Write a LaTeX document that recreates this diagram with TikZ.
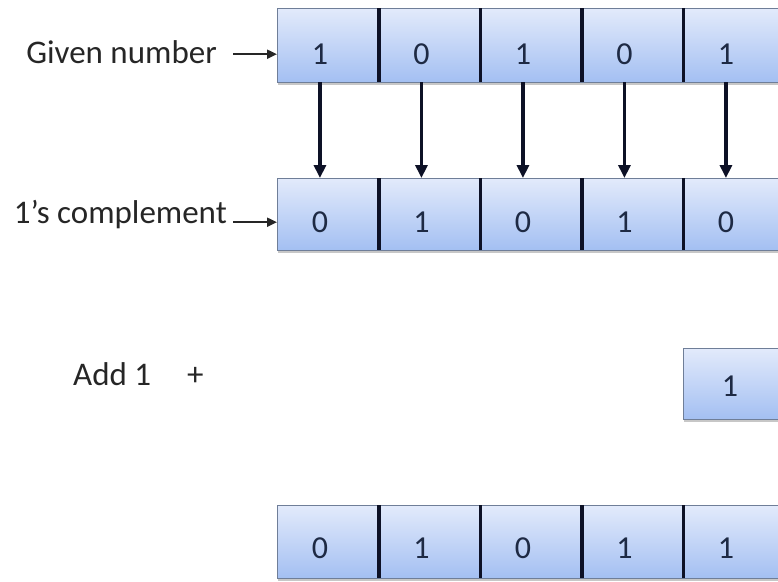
\documentclass[tikz,border=0pt]{standalone}
\usepackage{fontspec}
\setmainfont{Carlito}
\usetikzlibrary{arrows.meta,shadows,calc}
\definecolor{boxtop}{HTML}{E2EAFB}
\definecolor{boxbot}{HTML}{A3BFF2}
\definecolor{boxline}{HTML}{6F7E98}
\definecolor{divline}{HTML}{0D1126}
\definecolor{txt}{HTML}{262626}
\definecolor{dig}{HTML}{1E2A44}
\begin{document}
\begin{tikzpicture}[x=1pt,y=-1pt,
  rowbox/.style={draw=boxline, line width=1.4pt, top color=boxtop, bottom color=boxbot,
    inner sep=0pt, anchor=north west, minimum width=#1,
    drop shadow={shadow xshift=0.5pt, shadow yshift=-2.5pt, opacity=0.22, fill=black}},
  rowh/.style={minimum height=#1},
  cell/.style={minimum width=101.5pt, minimum height=#1, inner sep=0pt, anchor=north west},
  divider/.style={draw=divline, line width=3.6pt},
  lab/.style={font=\fontsize{33}{40}\selectfont, text=txt, inner sep=0pt},
  digit/.style={font=\fontsize{32}{38}\selectfont, text=dig, inner sep=0pt},
  varrow/.style={draw=divline, line width=3.4pt, -{Triangle[length=13pt,width=12pt]}},
  harrow/.style={draw=txt, line width=2pt, -{Triangle[length=10pt,width=9pt]}}]
\useasboundingbox (0,0) rectangle (778,581);
\clip (0,0) rectangle (778,581);

% Row 1: given number
\node[rowbox=540pt, rowh=74pt] (row1) at (277,8) {};
\foreach \i in {1,...,5} \node[cell=74pt] (c1-\i) at ({277+101.5*(\i-1)},8) {};
\foreach \i in {1,...,4} \draw[divider] (c1-\i.north east) -- (c1-\i.south east);
\foreach \i/\v in {1/1,2/0,3/1,4/0,5/1}
  \node[digit] (d1-\i) at ([xshift=-8pt,yshift=-9pt]c1-\i.center) {\v};

% Row 2: 1's complement
\node[rowbox=540pt, rowh=72pt] (row2) at (277,178) {};
\foreach \i in {1,...,5} \node[cell=72pt] (c2-\i) at ({277+101.5*(\i-1)},178) {};
\foreach \i in {1,...,4} \draw[divider] (c2-\i.north east) -- (c2-\i.south east);
\foreach \i/\v in {1/0,2/1,3/0,4/1,5/0}
  \node[digit] (d2-\i) at ([xshift=-8pt,yshift=-8pt]c2-\i.center) {\v};

% vertical arrows
\foreach \i in {1,...,5}
  \draw[varrow] (d1-\i |- c1-\i.south) -- (d1-\i |- c2-\i.north);

% Row 3: add 1
\node[rowbox=140pt, rowh=71pt] (row3) at (683,348) {};
\node[cell=71pt] (c3-1) at (683,348) {};
\node[digit] (d3-1) at ([xshift=-4pt,yshift=-2pt]c3-1.center) {1};

% Row 4: result
\node[rowbox=540pt, rowh=73pt] (row4) at (277,505) {};
\foreach \i in {1,...,5} \node[cell=73pt] (c4-\i) at ({277+101.5*(\i-1)},505) {};
\foreach \i in {1,...,4} \draw[divider] (c4-\i.north east) -- (c4-\i.south east);
\foreach \i/\v in {1/0,2/1,3/0,4/1,5/1}
  \node[digit] (d4-\i) at ([xshift=-8pt,yshift=-6.5pt]c4-\i.center) {\v};

% Labels
\node[lab, anchor=base east] (given) at (217,63) {Given number};
\node[lab, anchor=base east] (ones) at (227,223) {1’s complement};
\node[lab, anchor=base west] (add) at (73,385) {Add 1};
\node[lab, anchor=base west] (plus) at (187,385) {+};

\draw[harrow] ($(given.east |- d1-1.center)+(16,0)$) -- (c1-1.west |- d1-1.center);
\draw[harrow] ($(ones.east |- d2-1.center)+(6,0)$) -- (c2-1.west |- d2-1.center);
\end{tikzpicture}
\end{document}
